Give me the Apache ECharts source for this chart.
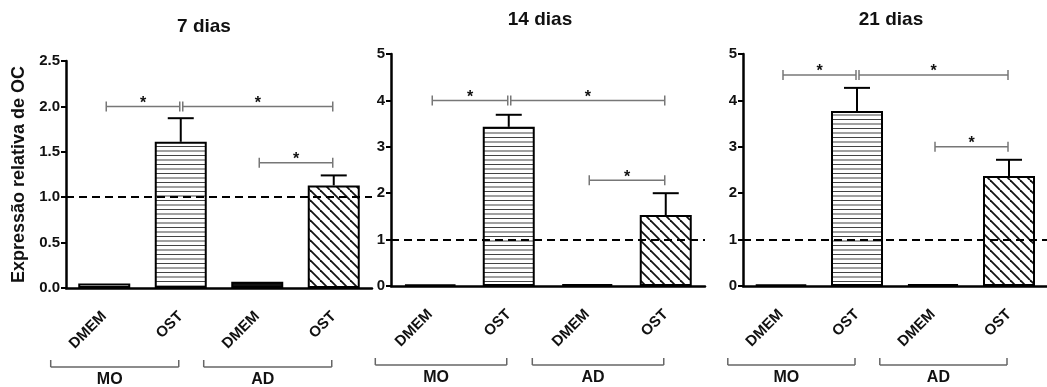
<!DOCTYPE html>
<html><head><meta charset="utf-8">
<script src="https://cdn.jsdelivr.net/npm/echarts@6/dist/echarts.min.js"></script>
<style>html,body{margin:0;padding:0;background:#fff}#c{width:1047px;height:387px}</style>
</head><body><div id="c"></div>
<script>
// ---- data ----
const categories = ['DMEM', 'OST', 'DMEM', 'OST'];
const groupLabels = ['MO', 'AD'];
const groupSpans = [[0, 1], [2, 3]];
const panelTitles = ['7 dias', '14 dias', '21 dias'];
const yAxisName = 'Expressão relativa de OC';
const yMax = [2.5, 5, 5];
const yInterval = [0.5, 1, 1];
const referenceLevel = 1;
const means7 = [0.05, 1.61, 0.07, 1.13];
const sem7 = [0, 0.26, 0, 0.11];
const means14 = [0.03, 3.43, 0.04, 1.53];
const sem14 = [0, 0.26, 0, 0.47];
const means21 = [0.03, 3.77, 0.04, 2.37];
const sem21 = [0, 0.50, 0, 0.35];
const sig7 = [[0, 1, 2.0], [1, 3, 2.0], [2, 3, 1.38]];
const sig14 = [[0, 1, 4.0], [1, 3, 4.0], [2, 3, 2.28]];
const sig21 = [[0, 1, 4.55], [1, 3, 4.55], [2, 3, 3.0]];

// ---- styles ----
const FONT = "'Liberation Sans', Arial, sans-serif";
function hPattern() {
  const c = document.createElement('canvas'); c.width = 8; c.height = 9;
  const g = c.getContext('2d'); g.fillStyle = '#fff'; g.fillRect(0, 0, 8, 9);
  g.fillStyle = '#444'; g.fillRect(0, 2, 8, 1); g.fillRect(0, 6.5, 8, 1);
  return c;
}
function dPattern() {
  const c = document.createElement('canvas'); c.width = 10; c.height = 10;
  const g = c.getContext('2d'); g.fillStyle = '#fff'; g.fillRect(0, 0, 10, 10);
  g.strokeStyle = '#111'; g.lineWidth = 1.8;
  for (const o of [-10, 0, 10]) { g.beginPath(); g.moveTo(o, 0); g.lineTo(o + 10, 10); g.stroke(); }
  return c;
}
const fills = ['#ffffff', { image: hPattern(), repeat: 'repeat' }, '#111111', { image: dPattern(), repeat: 'repeat' }];

const grids = [
  { left: 66, top: 61, width: 306, height: 227 },
  { left: 391, top: 54, width: 314, height: 232 },
  { left: 743, top: 54, width: 311, height: 232 }
];
const titleCenters = [[204, 27], [540, 20], [891, 20]];
const panels = [
  { means: means7, sem: sem7, sig: sig7 },
  { means: means14, sem: sem14, sig: sig14 },
  { means: means21, sem: sem21, sig: sig21 }
];

function renderErr(params, api) {
  const i = api.value(0), m = api.value(1), e = api.value(2);
  if (!(e > 0)) return;
  const p0 = api.coord([i, m]), p1 = api.coord([i, m + e]);
  return { type: 'group', children: [
    { type: 'line', shape: { x1: p0[0], y1: p0[1], x2: p1[0], y2: p1[1] }, style: { stroke: '#000', lineWidth: 2 } },
    { type: 'line', shape: { x1: p1[0] - 13, y1: p1[1], x2: p1[0] + 13, y2: p1[1] }, style: { stroke: '#000', lineWidth: 2 } }
  ] };
}
function renderSig(params, api) {
  const a = api.value(0), b = api.value(1), y = api.value(2);
  const p1 = api.coord([a, y]), p2 = api.coord([b, y]);
  const x1 = p1[0] + 2, x2 = p2[0] - 1, yy = p1[1];
  const st = { stroke: '#777', lineWidth: 1.5 };
  return { type: 'group', children: [
    { type: 'line', shape: { x1: x1, y1: yy, x2: x2, y2: yy }, style: st },
    { type: 'line', shape: { x1: x1, y1: yy - 5, x2: x1, y2: yy + 5 }, style: st },
    { type: 'line', shape: { x1: x2, y1: yy - 5, x2: x2, y2: yy + 5 }, style: st },
    { type: 'text', x: (x1 + x2) / 2, y: yy - 3, style: { text: '*', fill: '#111', font: 'bold 16px ' + FONT, textAlign: 'center', textVerticalAlign: 'middle' } }
  ] };
}
function renderGroup(params, api) {
  const a = api.value(0), b = api.value(1);
  const band = api.size([1, 0])[0];
  const pa = api.coord([a, 0]), pb = api.coord([b, 0]);
  const y = pa[1] + 79;
  const x1 = pa[0] - band * 0.7, x2 = pb[0] - 2;
  const st = { stroke: '#666', lineWidth: 1.5 };
  return { type: 'group', children: [
    { type: 'line', shape: { x1: x1, y1: y, x2: x2, y2: y }, style: st },
    { type: 'line', shape: { x1: x1, y1: y, x2: x1, y2: y - 7 }, style: st },
    { type: 'line', shape: { x1: x2, y1: y, x2: x2, y2: y - 7 }, style: st },
    { type: 'text', x: (x1 + x2) / 2 - 5, y: y + 13, style: { text: groupLabels[params.dataIndex], fill: '#111', font: 'bold 16px ' + FONT, textAlign: 'center', textVerticalAlign: 'middle' } }
  ] };
}

const option = {
  backgroundColor: '#fff',
  animation: false,
  grid: grids,
  graphic: panelTitles.map((t, k) => ({
    type: 'text', x: titleCenters[k][0], y: titleCenters[k][1],
    style: { text: t, font: 'bold 19px ' + FONT, fill: '#111', textAlign: 'center', textVerticalAlign: 'middle' }
  })),
  xAxis: grids.map((g, k) => ({
    type: 'category', gridIndex: k, data: categories,
    axisLine: { lineStyle: { color: '#000', width: 2.5 } },
    axisTick: { alignWithLabel: true, length: 6, lineStyle: { color: '#000', width: 2 } },
    axisLabel: { rotate: 45, margin: 26, color: '#111', fontWeight: 'bold', fontSize: 15, fontFamily: FONT, interval: 0 }
  })),
  yAxis: grids.map((g, k) => ({
    type: 'value', gridIndex: k, min: 0, max: yMax[k], interval: yInterval[k],
    name: k === 0 ? yAxisName : '', nameLocation: 'middle', nameGap: 38, nameRotate: 90,
    nameTextStyle: { color: '#111', fontWeight: 'bold', fontSize: 18, fontFamily: FONT },
    axisLine: { show: true, lineStyle: { color: '#000', width: 2.5 } },
    axisTick: { show: true, length: 5, lineStyle: { color: '#000', width: 2 } },
    splitLine: { show: false },
    axisLabel: { color: '#111', fontWeight: 'bold', fontSize: 15, fontFamily: FONT, margin: 6,
      formatter: k === 0 ? (v => v.toFixed(1)) : (v => String(v)) }
  })),
  series: []
};

panels.forEach((p, k) => {
  option.series.push({
    type: 'bar', xAxisIndex: k, yAxisIndex: k, barWidth: 52,
    data: p.means.map((v, i) => ({ value: v, itemStyle: { color: fills[i], borderColor: '#000', borderWidth: 2 } })),
    markLine: {
      silent: true, symbol: ['none', 'none'], label: { show: false },
      lineStyle: { type: [8, 5], color: '#000', width: 2 },
      data: [{ yAxis: referenceLevel }]
    },
    z: 2
  });
  option.series.push({
    type: 'custom', xAxisIndex: k, yAxisIndex: k, renderItem: renderErr,
    data: p.means.map((v, i) => [i, v, p.sem[i]]), z: 3, silent: true
  });
  option.series.push({
    type: 'custom', xAxisIndex: k, yAxisIndex: k, renderItem: renderSig,
    encode: { x: [0, 1], y: 2 }, data: p.sig, z: 4, silent: true, clip: false
  });
  option.series.push({
    type: 'custom', xAxisIndex: k, yAxisIndex: k, renderItem: renderGroup,
    encode: { x: [0, 1] }, data: groupSpans, z: 4, silent: true, clip: false
  });
});

const chart = echarts.init(document.getElementById('c'), null, { renderer: 'canvas' });
chart.setOption(option);
</script>
</body></html>
